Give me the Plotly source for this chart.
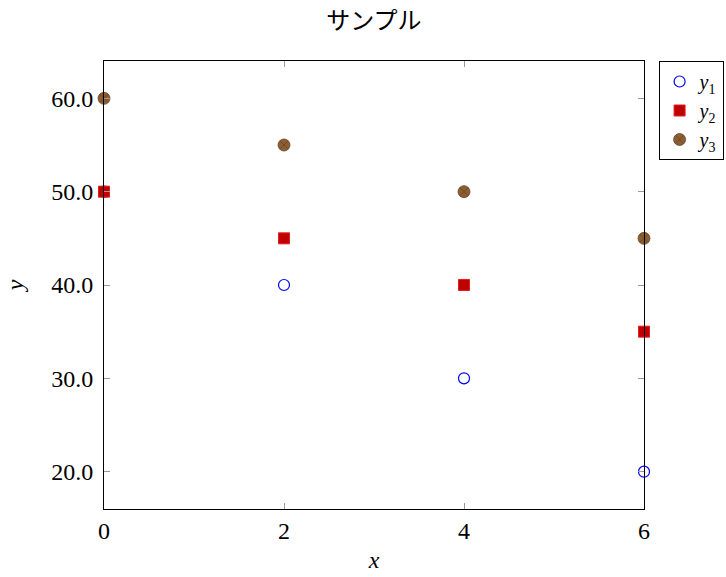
import plotly.graph_objects as go

x_vals = [0, 2, 4, 6]
y1 = [50, 40, 30, 20]
y2 = [50, 45, 40, 35]
y3 = [60, 55, 50, 45]
x_ticks = [0, 2, 4, 6]
y_ticks = [20, 30, 40, 50, 60]
y_tick_labels = ["20.0", "30.0", "40.0", "50.0", "60.0"]

serif = "Liberation Serif, DejaVu Serif, serif"

fig = go.Figure()
fig.add_trace(go.Scatter(x=x_vals, y=y1, mode="markers", name="<i>y</i><sub>1</sub>",
                         cliponaxis=False,
                         marker=dict(symbol="circle-open", size=11, color="#0000ff",
                                     line=dict(width=1.2, color="#0000ff"))))
fig.add_trace(go.Scatter(x=x_vals, y=y2, mode="markers", name="<i>y</i><sub>2</sub>",
                         cliponaxis=False,
                         marker=dict(symbol="square", size=11, color="#c00000",
                                     line=dict(width=1, color="#e02020"))))
fig.add_trace(go.Scatter(x=x_vals, y=y3, mode="markers", name="<i>y</i><sub>3</sub>",
                         cliponaxis=False,
                         marker=dict(symbol="circle-x", size=12, color="#8b5e34",
                                     line=dict(width=0.8, color="#6b4424"))))

axis_common = dict(showgrid=False, zeroline=False, showline=True, linecolor="black",
                   linewidth=1, mirror="ticks", ticks="inside", ticklen=6,
                   tickcolor="#999999", tickwidth=1,
                   tickfont=dict(family=serif, size=24, color="black"))

fig.update_xaxes(range=[0, 6], tickvals=x_ticks, ticktext=[str(v) for v in x_ticks],
                 ticklabelstandoff=0,
                 title=dict(text="<i>x</i>", font=dict(family=serif, size=24, color="black"),
                            standoff=8),
                 **axis_common)
fig.update_yaxes(range=[16, 64], tickvals=y_ticks, ticktext=y_tick_labels,
                 ticklabelstandoff=5,
                 title=dict(text="<i>y</i>", font=dict(family=serif, size=24, color="black"),
                            standoff=20),
                 **axis_common)

fig.update_layout(
    width=726, height=577,
    margin=dict(l=104, r=82, t=61, b=68, autoexpand=False),
    paper_bgcolor="white", plot_bgcolor="white",
    title=dict(text="サンプル", x=0.5151, xanchor="center", y=0.965, yanchor="middle",
               font=dict(family="Noto Sans CJK JP", size=24, color="black")),
    legend=dict(x=1.027, y=1.0, xanchor="left", yanchor="top",
                bordercolor="black", borderwidth=1, bgcolor="white",
                font=dict(family=serif, size=20, color="black"),
                itemwidth=30, tracegroupgap=0),
    showlegend=True,
)

fig.write_html("out.html")
